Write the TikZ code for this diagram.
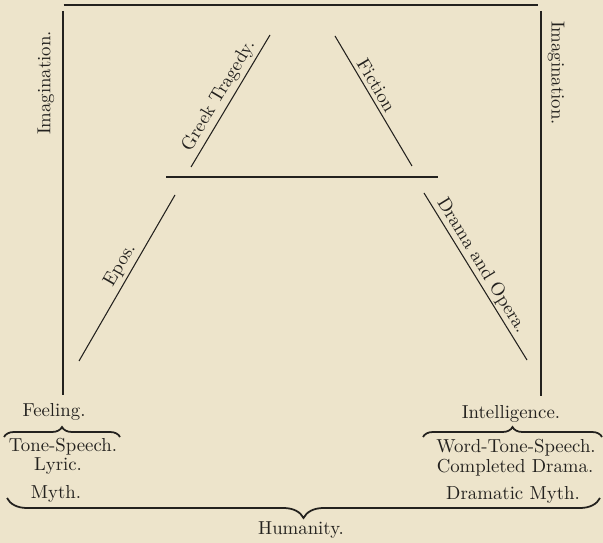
\documentclass[tikz,border=0pt]{standalone}
\usepackage{xcolor}
\usepackage{tikz}
\usetikzlibrary{positioning,decorations.pathreplacing}
\definecolor{ink}{HTML}{23211E}
\definecolor{paper}{HTML}{EDE4CB}
\tikzset{
  lbl/.style={font=\fontsize{10.7}{12}\selectfont,text=ink,inner sep=2pt},
  rule/.style={ink,line width=0.6pt},
  brc/.style={ink,line width=1pt,decorate,decoration={brace,amplitude=#1}},
}
\begin{document}
\begin{tikzpicture}
\fill[paper] (0,0) rectangle (12.06,-10.86);
\useasboundingbox (0,0) rectangle (12.06,-10.86);
% frame round the A
\coordinate (tl) at (1.27,-0.10); \coordinate (tr) at (10.76,-0.10);
\coordinate (lt) at (1.26,-0.22); \coordinate (lb) at (1.26,-7.90);
\coordinate (rt) at (10.82,-0.22); \coordinate (rb) at (10.82,-7.92);
\draw[rule,line width=0.9pt] (tl) -- (tr);
\draw[rule] (lt) -- (lb);
\draw[rule] (rt) -- (rb);
\node[lbl,rotate=90] (imgl) at (0.92,-1.66) {Imagination.};
\node[lbl,rotate=-90] (imgr) at (11.12,-1.46) {Imagination.};
% the A
\coordinate (ha) at (3.32,-3.54); \coordinate (hb) at (8.76,-3.54);
\draw[rule] (ha) -- (hb);
\coordinate (gt1) at (3.82,-3.34); \coordinate (gt2) at (5.40,-0.70);
\coordinate (fi1) at (6.70,-0.72); \coordinate (fi2) at (8.24,-3.32);
\coordinate (ep1) at (1.58,-7.22); \coordinate (ep2) at (3.50,-3.90);
\coordinate (dr1) at (8.48,-3.86); \coordinate (dr2) at (10.54,-7.20);
\draw[rule] (gt1) -- node[lbl,sloped,above,pos=.49] (gt) {Greek Tragedy.} (gt2);
\draw[rule] (fi1) -- node[lbl,sloped,above,pos=.42] (fi) {Fiction} (fi2);
\draw[rule] (ep1) -- node[lbl,sloped,above,pos=.54] (ep) {Epos.} (ep2);
\draw[rule] (dr1) -- node[lbl,sloped,above,pos=.47,inner sep=1pt] (dr) {Drama and Opera.} (dr2);
% feeling side
\node[lbl] (feel) at (1.08,-8.24) {Feeling.};
\coordinate (fb1) at (0.08,-8.74); \coordinate (fb2) at (2.40,-8.74);
\draw[brc=0.2cm] (fb1) -- (fb2);
\node[lbl] (tone) at (1.26,-8.94) {Tone-Speech.};
\node[lbl] (lyr) at (1.16,-9.32) {Lyric.};
\node[lbl] (myth) at (1.12,-9.88) {Myth.};
% intelligence side
\node[lbl] (intl) at (10.22,-8.28) {Intelligence.};
\coordinate (ib1) at (8.46,-8.74); \coordinate (ib2) at (12.04,-8.74);
\draw[brc=0.2cm] (ib1) -- (ib2);
\node[lbl] (wts) at (10.32,-8.96) {Word-Tone-Speech.};
\node[lbl] (cdr) at (10.30,-9.36) {Completed Drama.};
\node[lbl] (dmy) at (10.26,-9.90) {Dramatic Myth.};
% humanity
\coordinate (hb1) at (12.00,-9.96); \coordinate (hb2) at (0.14,-9.96);
\draw[brc=0.4cm] (hb1) -- (hb2);
\node[lbl] (hum) at (6.02,-10.60) {Humanity.};
\end{tikzpicture}
\end{document}
